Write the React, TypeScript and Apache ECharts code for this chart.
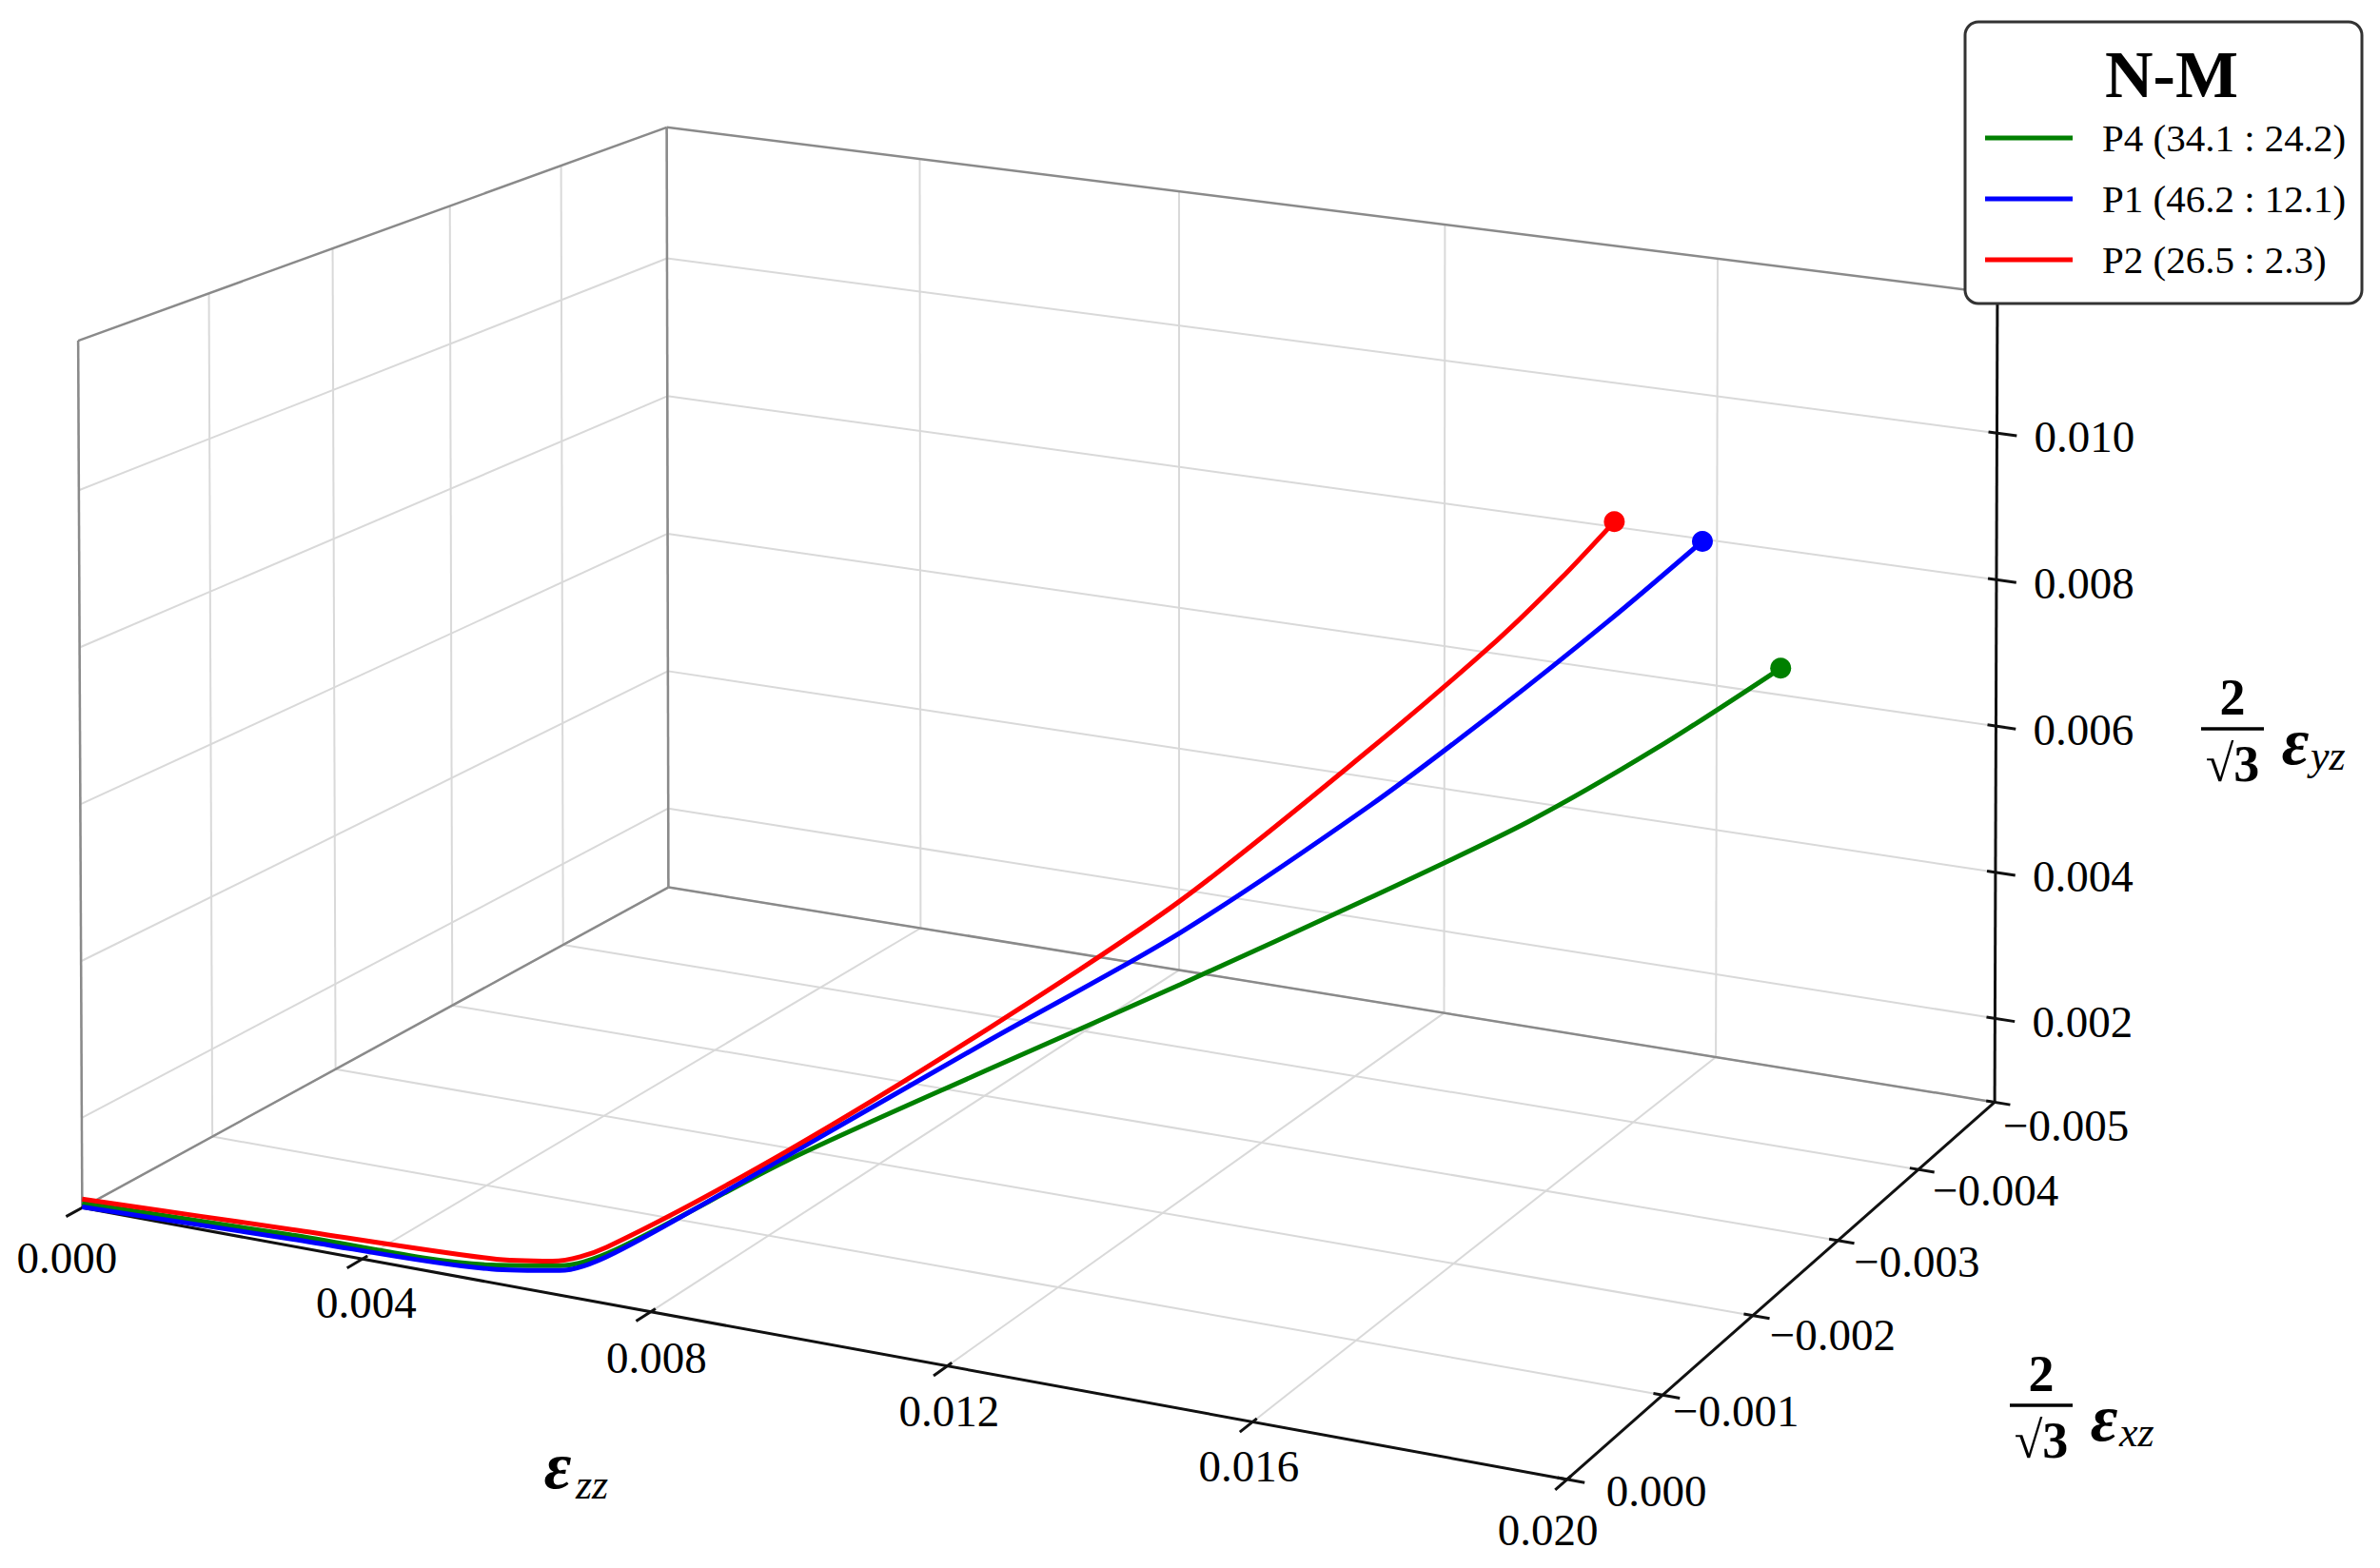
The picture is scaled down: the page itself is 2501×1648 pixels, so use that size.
import React, { useEffect, useRef } from "react";
import * as echarts from "echarts";

const W = 2501;
const H = 1648;

// ---- 3-D box limits (data units) ----
const X_RANGE = [0, 0.02]; // eps_zz
const Y_RANGE = [-0.005, 0]; // 2/sqrt3 eps_xz  (back .. front)
const Z_RANGE = [0.00085, 0.0119]; // 2/sqrt3 eps_yz

// ---- ticks ----
const X_TICKS = [0, 0.004, 0.008, 0.012, 0.016, 0.02];
const X_TICK_LABELS = ["0.000", "0.004", "0.008", "0.012", "0.016", "0.020"];
const Y_TICKS = [0, -0.001, -0.002, -0.003, -0.004, -0.005];
const Y_TICK_LABELS = ["0.000", "\u22120.001", "\u22120.002", "\u22120.003", "\u22120.004", "\u22120.005"];
const Z_TICKS = [0.002, 0.004, 0.006, 0.008, 0.01];
const Z_TICK_LABELS = ["0.002", "0.004", "0.006", "0.008", "0.010"];

// ---- series ----
const SERIES_NAMES = ["P4 (34.1 : 24.2)", "P1 (46.2 : 12.1)", "P2 (26.5 : 2.3)"];
const SERIES_COLORS = ["#008000", "#0000ff", "#ff0000"];

const P4_EZZ = [0, 0.003, 0.0058, 0.0067, 0.0073, 0.0086, 0.01033, 0.01202, 0.01378, 0.01529, 0.01653, 0.01778];
const P4_EXZ = [0, 0, 0, -0.00003, -0.00014, -0.00079, -0.00149, -0.00216, -0.00282, -0.00337, -0.00382, -0.00425];
const P4_EYZ = [0.00091, 0.00099, 0.00107, 0.00118, 0.00138, 0.0021, 0.00291, 0.00368, 0.00453, 0.00531, 0.00611, 0.00704];

const P1_EZZ = [0, 0.003, 0.0058, 0.0067, 0.0073, 0.00875, 0.0106, 0.01239, 0.01422, 0.01547, 0.01659, 0.01755];
const P1_EXZ = [0, 0, 0, -0.00003, -0.00012, -0.00069, -0.00131, -0.0019, -0.00248, -0.00287, -0.00321, -0.0035];
const P1_EYZ = [0.00086, 0.00094, 0.00102, 0.00112, 0.00135, 0.00227, 0.00348, 0.00463, 0.00607, 0.00719, 0.00826, 0.00924];

const P2_EZZ = [0, 0.003, 0.0058, 0.0066, 0.0072, 0.00883, 0.01074, 0.01258, 0.01446, 0.01573, 0.01638, 0.01693];
const P2_EXZ = [0, 0, 0, -0.00003, -0.00012, -0.00064, -0.00122, -0.00176, -0.00231, -0.00267, -0.00285, -0.003];
const P2_EYZ = [0.00096, 0.00106, 0.00115, 0.00122, 0.00141, 0.00239, 0.00374, 0.00518, 0.00698, 0.00829, 0.00905, 0.00976];

// ---- camera calibration: frame features (data coords) -> page pixels ----
const CALIB: number[][] = [
  [0, 0, 0.00085, 87, 1272],
  [0.02, 0, 0.00085, 1632, 1557],
  [0.02, -0.005, 0.00085, 2097, 1160],
  [0, -0.005, 0.00085, 694, 934],
  [0, 0, 0.0119, 78, 355],
  [0, -0.005, 0.0119, 693, 139],
  [0.02, -0.005, 0.0119, 2104, 315],
  [0.004, 0, 0.00085, 390, 1332],
  [0.008, 0, 0.00085, 694, 1385],
  [0.012, 0, 0.00085, 998, 1442],
  [0.016, 0, 0.00085, 1311, 1500],
  [0.02, -0.001, 0.00085, 1739, 1466],
  [0.02, -0.002, 0.00085, 1841, 1379],
  [0.02, -0.003, 0.00085, 1936, 1298],
  [0.02, -0.004, 0.00085, 2026, 1221],
  [0.02, -0.005, 0.002, 2098, 1067],
  [0.02, -0.005, 0.004, 2098, 912],
  [0.02, -0.005, 0.006, 2099, 760],
  [0.02, -0.005, 0.008, 2099, 612],
  [0.02, -0.005, 0.01, 2100, 460],
  [0, 0, 0.002, 85, 1177],
  [0, 0, 0.004, 83, 1007],
  [0, 0, 0.006, 82, 835],
  [0, 0, 0.008, 80, 673],
  [0, 0, 0.01, 79, 513],
  [0, -0.001, 0.008, 230, NaN],
  [0, -0.002, 0.008, 359, NaN],
  [0, -0.003, 0.008, 481, NaN],
  [0, -0.004, 0.008, 593, NaN],
  [0.004, -0.005, 0.001, 965, NaN],
  [0.008, -0.005, 0.005, 1236, NaN],
  [0.012, -0.005, 0.007, 1512, NaN],
  [0.016, -0.005, 0.007, 1800, NaN],
];

// label offsets in pixels from projected tick positions
const X_LABEL_OFFSETS = [[-16, 53], [4, 46], [6, 48], [2, 47], [-4, 47], [-20, 53]];
const Y_LABEL_OFFSETS = [[94, 12], [77, 17], [84, 20], [83, 22], [81, 22], [75, 25]];
const Z_LABEL_OFFSET = [92, 4];

const SERIF = '"Liberation Serif", "Times New Roman", Times, serif';

function toUVW(x: number, y: number, z: number) {
  return [
    (x - X_RANGE[0]) / (X_RANGE[1] - X_RANGE[0]),
    (Y_RANGE[1] - y) / (Y_RANGE[1] - Y_RANGE[0]),
    (z - Z_RANGE[0]) / (Z_RANGE[1] - Z_RANGE[0]),
  ];
}

function solveCamera(pts: number[][]): number[] {
  const rows: number[][] = [];
  const rhs: number[] = [];
  for (const p of pts) {
    const [x, y, z, px, py] = p;
    const [u, v, w] = toUVW(x, y, z);
    if (!isNaN(px)) {
      const X = px / 1000;
      rows.push([u, v, w, 1, 0, 0, 0, 0, -X * u, -X * v, -X * w]);
      rhs.push(X);
    }
    if (!isNaN(py)) {
      const Y = py / 1000;
      rows.push([0, 0, 0, 0, u, v, w, 1, -Y * u, -Y * v, -Y * w]);
      rhs.push(Y);
    }
  }
  const n = 11;
  const M = Array.from({ length: n }, () => new Array(n + 1).fill(0));
  rows.forEach((r, k) => {
    for (let i = 0; i < n; i++) {
      for (let j = 0; j < n; j++) M[i][j] += r[i] * r[j];
      M[i][n] += r[i] * rhs[k];
    }
  });
  for (let c = 0; c < n; c++) {
    let piv = c;
    for (let r = c + 1; r < n; r++) if (Math.abs(M[r][c]) > Math.abs(M[piv][c])) piv = r;
    const tmp = M[c];
    M[c] = M[piv];
    M[piv] = tmp;
    for (let r = 0; r < n; r++) {
      if (r === c) continue;
      const f = M[r][c] / M[c][c];
      for (let k = c; k <= n; k++) M[r][k] -= f * M[c][k];
    }
  }
  return M.map((row, i) => row[n] / row[i]);
}

const CAM = solveCamera(CALIB);

function proj(x: number, y: number, z: number): number[] {
  const [u, v, w] = toUVW(x, y, z);
  const c = CAM;
  const d = c[8] * u + c[9] * v + c[10] * w + 1;
  return [
    (1000 * (c[0] * u + c[1] * v + c[2] * w + c[3])) / d,
    (1000 * (c[4] * u + c[5] * v + c[6] * w + c[7])) / d,
  ];
}

function buildOption() {
  const [X0, X1] = X_RANGE;
  const [Y0, Y1] = Y_RANGE; // Y0 back, Y1 front
  const [Z0, Z1] = Z_RANGE;
  const seg = (a: number[], b: number[]) => ({ coords: [proj(a[0], a[1], a[2]), proj(b[0], b[1], b[2])] });

  const grid: any[] = [];
  X_TICKS.forEach((x) => {
    grid.push(seg([x, Y1, Z0], [x, Y0, Z0]));
    grid.push(seg([x, Y0, Z0], [x, Y0, Z1]));
  });
  Y_TICKS.forEach((y) => {
    grid.push(seg([X0, y, Z0], [X1, y, Z0]));
    grid.push(seg([X0, y, Z0], [X0, y, Z1]));
  });
  Z_TICKS.forEach((z) => {
    grid.push(seg([X0, Y0, z], [X1, Y0, z]));
    grid.push(seg([X0, Y1, z], [X0, Y0, z]));
  });

  const panes = [
    seg([X0, Y1, Z0], [X0, Y0, Z0]),
    seg([X0, Y0, Z0], [X1, Y0, Z0]),
    seg([X0, Y1, Z0], [X0, Y1, Z1]),
    seg([X0, Y1, Z1], [X0, Y0, Z1]),
    seg([X0, Y0, Z0], [X0, Y0, Z1]),
    seg([X0, Y0, Z1], [X1, Y0, Z1]),
  ];

  const axes = [
    seg([X0, Y1, Z0], [X1, Y1, Z0]),
    seg([X1, Y1, Z0], [X1, Y0, Z0]),
    seg([X1, Y0, Z0], [X1, Y0, Z1]),
  ];
  const ticks: any[] = [];
  X_TICKS.forEach((x) => ticks.push(seg([x, Y1 + 0.00012, Z0], [x, Y1 - 0.00004, Z0])));
  Y_TICKS.forEach((y) => ticks.push(seg([X1 - 0.00012, y, Z0], [X1 + 0.00022, y, Z0])));
  Z_TICKS.forEach((z) => ticks.push(seg([X1 - 0.00012, Y0, z], [X1 + 0.00028, Y0, z])));

  const curves = [
    { ezz: P4_EZZ, exz: P4_EXZ, eyz: P4_EYZ },
    { ezz: P1_EZZ, exz: P1_EXZ, eyz: P1_EYZ },
    { ezz: P2_EZZ, exz: P2_EXZ, eyz: P2_EYZ },
  ];

  const lineSeries = curves.map((c, s) => {
    const last = c.ezz.length - 1;
    return {
      type: "line",
      name: SERIES_NAMES[s],
      data: c.ezz.map((x, i) => {
        const p = proj(x, c.exz[i], c.eyz[i]);
        return i === last
          ? { value: p, symbol: "circle", symbolSize: 22 }
          : { value: p, symbol: "none" };
      }),
      showSymbol: true,
      smooth: 0.3,
      clip: false,
      silent: true,
      z: 5 + s,
      lineStyle: { color: SERIES_COLORS[s], width: 5 },
      itemStyle: { color: SERIES_COLORS[s] },
    };
  });

  const txt = (x: number, y: number, text: string, font: string, align = "center", extra: any = {}) => ({
    type: "text",
    x,
    y,
    z: 30,
    silent: true,
    style: {
      text,
      font,
      fill: "#000",
      align,
      verticalAlign: "middle",
      textAlign: align,
      textVerticalAlign: "middle",
      ...extra,
    },
  });

  const graphics: any[] = [];
  const tickFont = `47px ${SERIF}`;
  X_TICKS.forEach((x, i) => {
    const p = proj(x, Y1, Z0);
    graphics.push(txt(p[0] + X_LABEL_OFFSETS[i][0], p[1] + X_LABEL_OFFSETS[i][1], X_TICK_LABELS[i], tickFont));
  });
  Y_TICKS.forEach((y, i) => {
    const p = proj(X1, y, Z0);
    graphics.push(txt(p[0] + Y_LABEL_OFFSETS[i][0], p[1] + Y_LABEL_OFFSETS[i][1], Y_TICK_LABELS[i], tickFont));
  });
  Z_TICKS.forEach((z, i) => {
    const p = proj(X1, Y0, z);
    graphics.push(txt(p[0] + Z_LABEL_OFFSET[0], p[1] + Z_LABEL_OFFSET[1], Z_TICK_LABELS[i], tickFont));
  });

  // axis titles
  const epsFont = `bold italic 70px ${SERIF}`;
  const subFont = `italic 44px ${SERIF}`;
  const fracFont = `bold 54px ${SERIF}`;
  graphics.push(txt(586, 1540, "\u03b5", epsFont));
  graphics.push(txt(605, 1560, "zz", subFont, "left"));
  const fracLabel = (ex: number, ey: number, sub: string) => {
    const fx = ex - 66;
    graphics.push(txt(fx, ey - 46, "2", fracFont));
    graphics.push({
      type: "line",
      z: 30,
      silent: true,
      shape: { x1: fx - 33, y1: ey - 13, x2: fx + 33, y2: ey - 13 },
      style: { stroke: "#000", lineWidth: 3.5 },
    });
    graphics.push(txt(fx, ey + 24, "\u221a3", fracFont));
    graphics.push(txt(ex, ey, "\u03b5", epsFont));
    graphics.push(txt(ex + 16, ey + 15, sub, subFont, "left"));
  };
  fracLabel(2412, 779, "yz");
  fracLabel(2211, 1490, "xz");

  // legend
  graphics.push({
    type: "rect",
    z: 40,
    silent: true,
    shape: { x: 2065, y: 23, width: 417, height: 296, r: 14 },
    style: { fill: "#ffffff", stroke: "#333333", lineWidth: 3 },
  });
  graphics.push({ ...txt(2282, 78, "N-M", `bold 70px ${SERIF}`), z: 41 });
  [0, 1, 2].forEach((s, k) => {
    const y = 145 + 64 * k;
    graphics.push({
      type: "line",
      z: 41,
      silent: true,
      shape: { x1: 2086, y1: y, x2: 2178, y2: y },
      style: { stroke: SERIES_COLORS[s], lineWidth: 5 },
    });
    graphics.push({ ...txt(2209, y, SERIES_NAMES[s], `41px ${SERIF}`, "left"), z: 41 });
  });

  return {
    animation: false,
    backgroundColor: "#ffffff",
    grid: { left: 0, top: 0, width: W, height: H, containLabel: false },
    xAxis: { type: "value", min: 0, max: W, show: false },
    yAxis: { type: "value", min: 0, max: H, inverse: true, show: false },
    series: [
      {
        type: "lines",
        coordinateSystem: "cartesian2d",
        silent: true,
        z: 1,
        lineStyle: { color: "#d9d9d9", width: 2, opacity: 1 },
        data: grid,
      },
      {
        type: "lines",
        coordinateSystem: "cartesian2d",
        silent: true,
        z: 2,
        lineStyle: { color: "#8a8a8a", width: 2.5, opacity: 1 },
        data: panes,
      },
      {
        type: "lines",
        coordinateSystem: "cartesian2d",
        silent: true,
        z: 3,
        lineStyle: { color: "#111111", width: 3, opacity: 1 },
        data: axes.concat(ticks),
      },
      ...lineSeries,
    ],
    graphic: graphics,
  };
}

export default function App() {
  const ref = useRef<HTMLDivElement>(null);
  useEffect(() => {
    if (!ref.current) return;
    const chart = echarts.init(ref.current, null, { renderer: "svg" });
    chart.setOption(buildOption() as any);
    return () => chart.dispose();
  }, []);
  return (
    <div
      ref={ref}
      style={{ position: "absolute", left: 0, top: 0, width: W, height: H, background: "#fff" }}
    />
  );
}
